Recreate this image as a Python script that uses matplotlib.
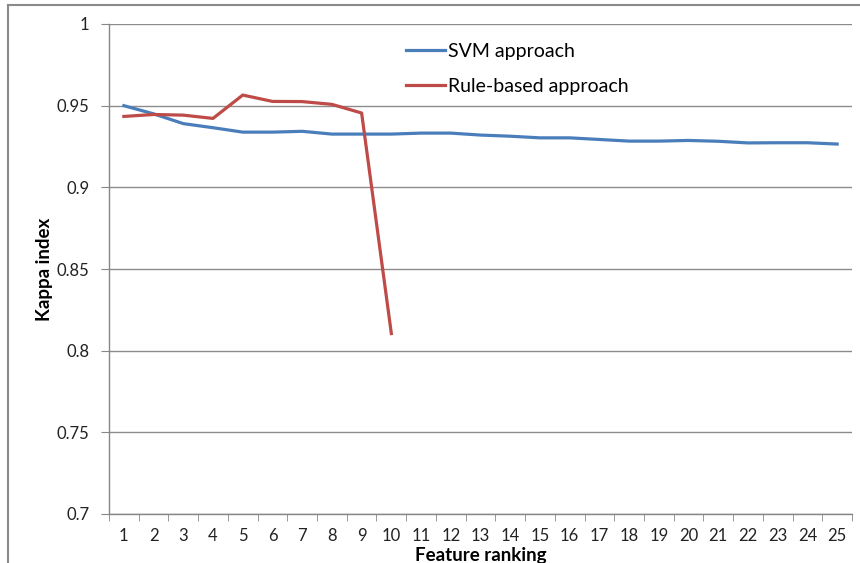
import matplotlib
matplotlib.use("Agg")
import matplotlib.pyplot as plt
from matplotlib.lines import Line2D
import numpy as np

plt.rcParams['font.family'] = ['Lato', 'DejaVu Sans']

ranks = list(range(1, 26))
rank_labels = [str(r) for r in ranks]
svm = [0.950, 0.945, 0.939, 0.9365, 0.9338, 0.9338, 0.9343, 0.9326, 0.9326, 0.9326,
       0.9332, 0.9332, 0.9320, 0.9313, 0.9303, 0.9303, 0.9293, 0.9283, 0.9283, 0.9287,
       0.9282, 0.9272, 0.9273, 0.9273, 0.9265]
rule_ranks = list(range(1, 11))
rule = [0.9434, 0.9446, 0.9442, 0.9422, 0.9565, 0.9526, 0.9525, 0.9508, 0.9455, 0.8105]
yticks = [0.7, 0.75, 0.8, 0.85, 0.9, 0.95, 1.0]
ytick_labels = ['0.7', '0.75', '0.8', '0.85', '0.9', '0.95', '1']

W, H = 860, 563
fig = plt.figure(figsize=(W/100, H/100), dpi=100)
ax = fig.add_axes([109/W, 1-514/H, (852-109)/W, (514-24)/H])

blue = '#4A7EBB'
red = '#BE4B48'
ax.plot(ranks, svm, color=blue, lw=2.3, solid_joinstyle='round', zorder=3)
ax.plot(rule_ranks, rule, color=red, lw=2.3, solid_joinstyle='round', zorder=4)

ax.set_xlim(0.5, 25.5)
ax.set_ylim(0.7, 1.0)
ax.set_yticks(yticks)
ax.set_yticklabels(ytick_labels)
ax.set_xticks(ranks)
ax.set_xticklabels(rank_labels)
ax.set_xticks(np.arange(0.5, 26, 1), minor=True)
ax.tick_params(axis='x', which='major', length=0, pad=10, labelsize=12, colors='#222222')
ax.tick_params(axis='x', which='minor', length=5, color='#868686', direction='out')
ax.tick_params(axis='y', length=6, color='#868686', labelsize=12, colors='#222222', pad=8)

ax.grid(axis='y', color='#8c8c8c', lw=1)
ax.set_axisbelow(True)
for s in ['top', 'right']:
    ax.spines[s].set_visible(False)
for s in ['left', 'bottom']:
    ax.spines[s].set_color('#868686')
    ax.spines[s].set_linewidth(1)

ax.set_ylabel('Kappa index', fontsize=13.5, fontweight='bold', labelpad=3)
fig.text(((109+852)/2)/W, 1-556/H, 'Feature ranking', fontsize=13.5, fontweight='bold',
         ha='center', va='center')

handles = [Line2D([], [], color=blue, lw=2.3), Line2D([], [], color=red, lw=2.3)]
fig.legend(handles, ['SVM approach', 'Rule-based approach'], loc='upper left',
           bbox_to_anchor=(396/W, 1-33/H), frameon=False, fontsize=14,
           handlelength=2.0, handletextpad=0.2, labelspacing=0.95, borderpad=0)

# outer chart border
fig.add_artist(Line2D([8/W, 1], [1-5/H, 1-5/H], color='#8a8a8a', lw=1.5, transform=fig.transFigure))
fig.add_artist(Line2D([8/W, 8/W], [0, 1-5/H], color='#8a8a8a', lw=1.5, transform=fig.transFigure))

fig.savefig('out.png', dpi=100)
